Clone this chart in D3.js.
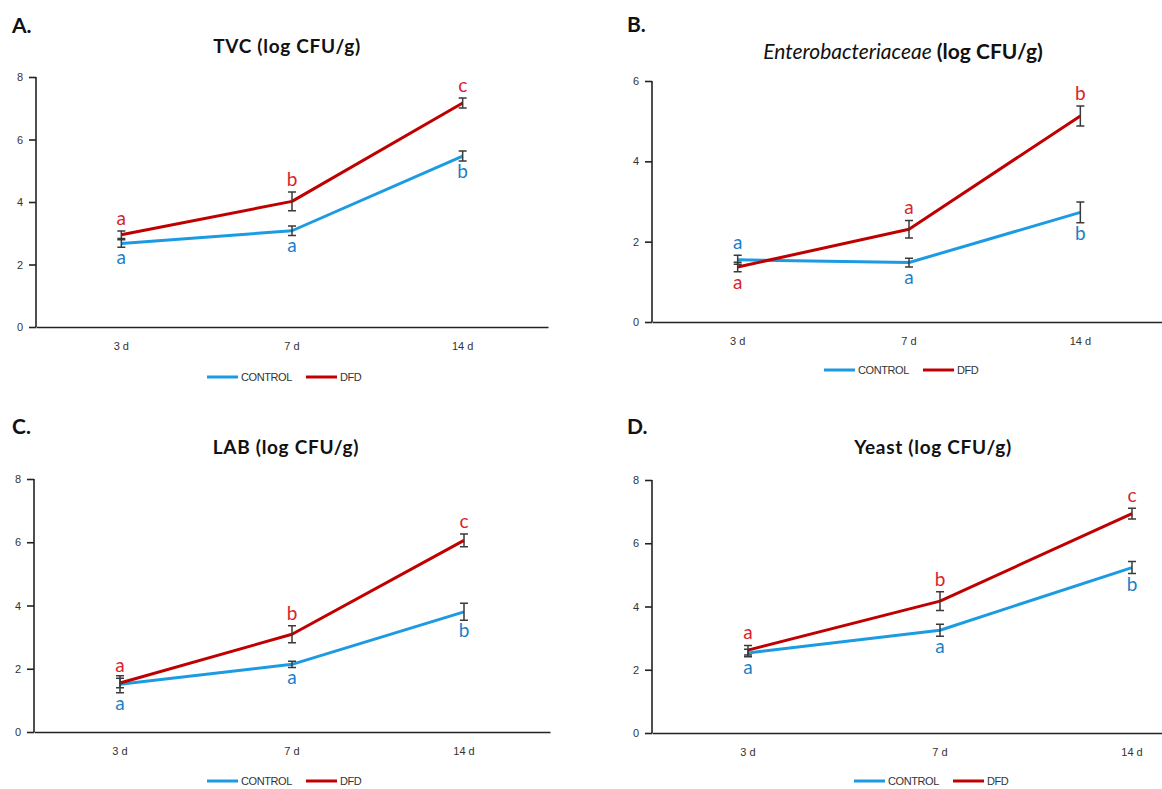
<!DOCTYPE html>
<meta charset="utf-8">
<script src="https://d3js.org/d3.v7.min.js"></script>
<style>
  body { margin: 0; background: #fff; }
  text { font-family: Lato, "Open Sans", sans-serif; }
</style>
<div id="chart"></div>
<script>

  // data
  const categories = ["3 d", "7 d", "14 d"];
  const seriesNames = ["CONTROL", "DFD"];

  const tvcControl = [2.67, 3.08, 5.47];
  const tvcControlErr = [0.12, 0.15, 0.16];
  const tvcDfd = [2.95, 4.02, 7.17];
  const tvcDfdErr = [0.12, 0.30, 0.16];
  const tvcControlLetters = ["a", "a", "b"];
  const tvcDfdLetters = ["a", "b", "c"];

  const entControl = [1.55, 1.48, 2.73];
  const entControlErr = [0.11, 0.11, 0.26];
  const entDfd = [1.37, 2.31, 5.13];
  const entDfdErr = [0.12, 0.22, 0.25];
  const entControlLetters = ["a", "a", "b"];
  const entDfdLetters = ["a", "a", "b"];

  const labControl = [1.51, 2.14, 3.80];
  const labControlErr = [0.27, 0.10, 0.27];
  const labDfd = [1.55, 3.09, 6.06];
  const labDfdErr = [0.15, 0.27, 0.20];
  const labControlLetters = ["a", "a", "b"];
  const labDfdLetters = ["a", "b", "c"];

  const yeastControl = [2.53, 3.25, 5.23];
  const yeastControlErr = [0.12, 0.19, 0.19];
  const yeastDfd = [2.62, 4.17, 6.94];
  const yeastDfdErr = [0.15, 0.30, 0.17];
  const yeastControlLetters = ["a", "a", "b"];
  const yeastDfdLetters = ["a", "b", "c"];

  const lineColors = ["#1c9be2", "#c00000"];
  const letterColors = ["#1a7fc6", "#d9232b"];

  // panel layout (pixels)
  const panels = [
    { tag: "A.", title: "TVC", italic: false, yMax: 8,
      control: tvcControl, controlErr: tvcControlErr, dfd: tvcDfd, dfdErr: tvcDfdErr,
      cL: tvcControlLetters, dL: tvcDfdLetters,
      x0: 36, x1: 548, yTop: 77, yBot: 327, titleX: 287, titleY: 53, tagX: 12, tagY: 33,
      legX: 207, legY: 377 },
    { tag: "B.", title: "Enterobacteriaceae", italic: true, yMax: 6,
      control: entControl, controlErr: entControlErr, dfd: entDfd, dfdErr: entDfdErr,
      cL: entControlLetters, dL: entDfdLetters,
      x0: 652, x1: 1166, yTop: 81, yBot: 322, titleX: 903, titleY: 59, tagX: 627, tagY: 32,
      legX: 824, legY: 370 },
    { tag: "C.", title: "LAB", italic: false, yMax: 8,
      control: labControl, controlErr: labControlErr, dfd: labDfd, dfdErr: labDfdErr,
      cL: labControlLetters, dL: labDfdLetters,
      x0: 34, x1: 550, yTop: 479, yBot: 732, titleX: 286, titleY: 454, tagX: 12, tagY: 434,
      legX: 207, legY: 781 },
    { tag: "D.", title: "Yeast", italic: false, yMax: 8,
      control: yeastControl, controlErr: yeastControlErr, dfd: yeastDfd, dfdErr: yeastDfdErr,
      cL: yeastControlLetters, dL: yeastDfdLetters,
      x0: 652, x1: 1228, yTop: 480, yBot: 733, titleX: 933, titleY: 454, tagX: 627, tagY: 434,
      legX: 854, legY: 781 }
  ];

  const svg = d3.select("#chart")
    .append("svg")
    .attr("width", 1162)
    .attr("height", 789);

  panels.forEach(function (p) {
    const g = svg.append("g");

    const x = d3.scaleBand().domain(categories).range([p.x0, p.x1]);
    const y = d3.scaleLinear().domain([0, p.yMax]).range([p.yBot, p.yTop]);

    // panel tag
    g.append("text")
      .attr("x", p.tagX).attr("y", p.tagY)
      .style("font-size", "21px").style("font-weight", "bold")
      .attr("fill", "#111")
      .text(p.tag);

    // title
    const t = g.append("text")
      .attr("x", p.titleX).attr("y", p.titleY)
      .attr("text-anchor", "middle")
      .style("font-weight", "bold")
      .attr("fill", "#111");
    if (p.italic) {
      t.style("font-size", "21px");
      t.append("tspan").style("font-style", "italic").style("font-weight", "normal").text(p.title);
      t.append("tspan").text(" (log CFU/g)");
    } else {
      t.style("font-size", "19px").style("letter-spacing", "0.7px");
      t.text(p.title + " (log CFU/g)");
    }

    // axes
    const yAxis = g.append("g")
      .attr("transform", `translate(${p.x0},0)`)
      .call(d3.axisLeft(y).ticks(p.yMax / 2).tickSize(7).tickPadding(6).tickFormat(d3.format("d")));
    const xAxis = g.append("g")
      .attr("transform", `translate(0,${p.yBot})`)
      .call(d3.axisBottom(x).tickSize(0).tickPadding(15));
    [yAxis, xAxis].forEach(function (a) {
      a.select(".domain").attr("stroke", "#222").attr("stroke-width", 1.6);
      a.selectAll(".tick line").attr("stroke", "#222").attr("stroke-width", 1.6);
      a.selectAll("text").style("font-family", "'Liberation Sans', Arial, sans-serif")
        .style("font-size", "11px").attr("fill", "#333");
    });
    yAxis.select(".domain").attr("d", `M0,${p.yBot}V${p.yTop}`);

    const cx = d => x(d) + x.bandwidth() / 2;
    const sets = [
      { vals: p.control, err: p.controlErr, letters: p.cL, other: p.dfd },
      { vals: p.dfd, err: p.dfdErr, letters: p.dL, other: p.control }
    ];

    const line = d3.line().x((d, i) => cx(categories[i])).y(d => y(d));

    sets.forEach(function (s, k) {
      g.append("path")
        .datum(s.vals)
        .attr("d", line)
        .attr("fill", "none")
        .attr("stroke", lineColors[k])
        .attr("stroke-width", 3)
        .attr("stroke-linejoin", "round");
    });

    // error bars
    sets.forEach(function (s) {
      s.vals.forEach(function (v, i) {
        const xc = cx(categories[i]);
        const lo = y(v - s.err[i]), hi = y(v + s.err[i]);
        g.append("path")
          .attr("d", `M${xc},${lo}V${hi}M${xc - 4},${lo}H${xc + 4}M${xc - 4},${hi}H${xc + 4}`)
          .attr("stroke", "#3a3a3a")
          .attr("stroke-width", 1.5)
          .attr("fill", "none");
      });
    });

    // significance letters: higher series above, lower series below
    sets.forEach(function (s, k) {
      s.vals.forEach(function (v, i) {
        const above = v >= s.other[i];
        const yy = above ? y(v + s.err[i]) - 6 : y(v - s.err[i]) + 17;
        g.append("text")
          .attr("x", cx(categories[i])).attr("y", yy)
          .attr("text-anchor", "middle")
          .style("font-size", "19px")
          .attr("fill", letterColors[k])
          .text(s.letters[i]);
      });
    });

    // legend
    let lx = p.legX;
    seriesNames.forEach(function (name, k) {
      g.append("line")
        .attr("x1", lx).attr("x2", lx + 31)
        .attr("y1", p.legY).attr("y2", p.legY)
        .attr("stroke", lineColors[k]).attr("stroke-width", 3);
      const lt = g.append("text")
        .attr("x", lx + 34).attr("y", p.legY + 4)
        .style("font-family", "'Liberation Sans', Arial, sans-serif")
        .style("font-size", "11px")
        .style("letter-spacing", "-0.4px")
        .attr("fill", "#333")
        .text(name);
      lx = lx + 34 + lt.node().getComputedTextLength() + 14;
    });
  });

</script>
